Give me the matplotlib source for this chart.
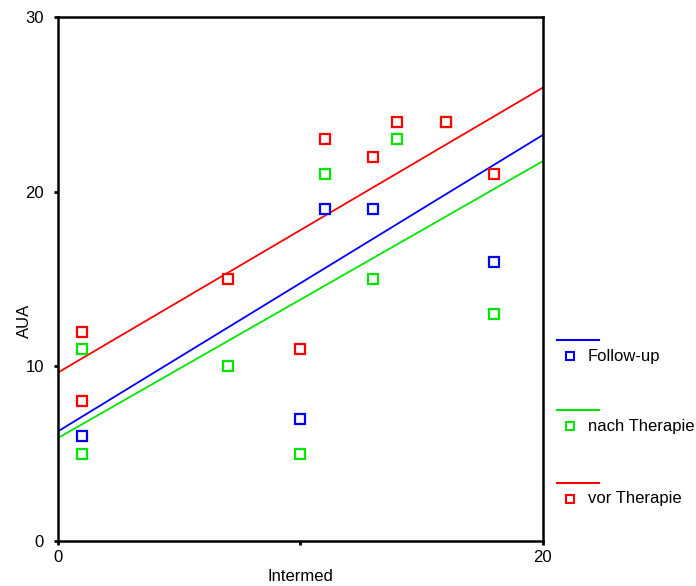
import numpy as np
import matplotlib
matplotlib.use("Agg")
import matplotlib.pyplot as plt
from matplotlib.lines import Line2D

plt.rcParams['font.family'] = ['Liberation Sans', 'DejaVu Sans']
plt.rcParams['font.size'] = 12

groups = ["Follow-up", "nach Therapie", "vor Therapie"]
colors = ["#0000ff", "#00e600", "#ff0000"]

# points
follow_x = [1, 10, 11, 13, 18]
follow_y = [6, 7, 19, 19, 16]
nach_x = [1, 1, 7, 10, 11, 13, 14, 16, 18]
nach_y = [11, 5, 10, 5, 21, 15, 23, 24, 13]
vor_x = [1, 1, 7, 10, 11, 13, 14, 16, 18]
vor_y = [12, 8, 15, 11, 23, 22, 24, 24, 21]

# fit lines (intercept, slope) as drawn in the original
intercepts = [6.28, 5.90, 9.65]
slopes = [0.849, 0.793, 0.816]

xs = [follow_x, nach_x, vor_x]
ys = [follow_y, nach_y, vor_y]

fig = plt.figure(figsize=(6.96, 5.86), dpi=100)
ax = fig.add_axes([0.0833, 0.0768, 0.6967, 0.8937])

xl = np.array([0, 20])
for i in range(3):
    ax.plot(xl, intercepts[i] + slopes[i] * xl, color=colors[i], lw=1.3, zorder=2)
for i in range(3):
    ax.plot(xs[i], ys[i], ls='none', marker='s', ms=6.5, mfc='white',
            mec=colors[i], mew=1.6, zorder=3)

ax.set_xlim(0, 20)
ax.set_ylim(0, 30)
ax.set_xticks([0, 10, 20])
ax.set_xticklabels(["0", "", "20"])
ax.set_yticks([0, 10, 20, 30])
ax.tick_params(direction='out', length=3, width=2)
ax.tick_params(axis='y', pad=7)
for s in ax.spines.values():
    s.set_linewidth(1.8)
ax.set_xlabel("Intermed", labelpad=3)
ax.set_ylabel("AUA")
ax.yaxis.set_label_coords(-0.054, 0.42)

# legend to the right: line above, marker + label below
ly = [340, 410, 483]
for i in range(3):
    y_line = 1 - ly[i] / 586
    y_mark = 1 - (ly[i] + 16) / 586
    fig.add_artist(Line2D([557 / 696, 599 / 696], [y_line, y_line],
                          color=colors[i], lw=1.5))
    fig.add_artist(Line2D([570 / 696], [y_mark], marker='s', ms=5.5, mfc='white',
                          mec=colors[i], mew=1.5, ls='none'))
    fig.text(588 / 696, y_mark, groups[i], va='center', ha='left')

fig.savefig("out.png", dpi=100)
